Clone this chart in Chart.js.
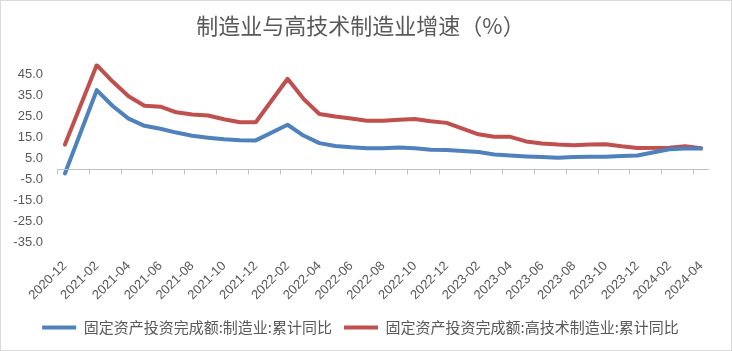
<!DOCTYPE html>
<html>
<head>
<meta charset="utf-8">
<script src="https://cdn.jsdelivr.net/npm/chart.js@4.4.1/dist/chart.umd.min.js"></script>
<style>
  body { margin: 0; background: #fff; }
  #box { width: 730px; height: 349px; border: 1px solid #d9d9d9; position: relative; }
</style>
</head>
<body>
<div id="box"><canvas id="growth-chart"></canvas></div>
<script>
// months; January has no separate release, so it stays empty
var months = ['2020-12', '2021-01', '2021-02', '2021-03', '2021-04', '2021-05', '2021-06', '2021-07', '2021-08', '2021-09', '2021-10', '2021-11', '2021-12',
  '2022-01', '2022-02', '2022-03', '2022-04', '2022-05', '2022-06', '2022-07', '2022-08', '2022-09', '2022-10', '2022-11', '2022-12',
  '2023-01', '2023-02', '2023-03', '2023-04', '2023-05', '2023-06', '2023-07', '2023-08', '2023-09', '2023-10', '2023-11', '2023-12',
  '2024-01', '2024-02', '2024-03', '2024-04'];

var manufacturing = [-2.2, null, 37.3, 29.8, 23.8, 20.4, 19.0, 17.2, 15.7, 14.8, 14.0, 13.6, 13.5,
  null, 20.9, 15.8, 12.2, 10.8, 10.2, 9.8, 9.8, 10.1, 9.8, 9.1, 9.0,
  null, 8.0, 6.8, 6.3, 5.9, 5.6, 5.3, 5.6, 5.8, 5.8, 6.1, 6.3,
  null, 9.3, 9.7, 9.6];

var highTech = [11.5, null, 49.2, 41.4, 34.4, 29.9, 29.5, 26.8, 25.8, 25.3, 23.5, 22.1, 22.1,
  null, 42.7, 33.2, 26.0, 24.8, 23.9, 22.8, 22.8, 23.3, 23.6, 22.6, 21.8,
  null, 16.4, 15.2, 15.2, 13.0, 12.0, 11.5, 11.2, 11.5, 11.7, 10.7, 9.9,
  null, 10.0, 10.7, 9.8];

var yTicks = [-35, -25, -15, -5, 5, 15, 25, 35, 45];

var seriesNames = ['固定资产投资完成额:制造业:累计同比', '固定资产投资完成额:高技术制造业:累计同比'];

var textColor = '#595959';
var axisColor = '#bfbfbf';
var latin = '"Liberation Sans", "Noto Sans CJK SC", sans-serif';
var cjk = '"Noto Sans CJK SC", "Liberation Sans", sans-serif';

// category axis line crossing at zero, with a tick mark every two months
var zeroAxis = {
    id: 'zeroAxis',
    afterDatasetsDraw: function(chart) {
        var xs = chart.scales.x;
        var ys = chart.scales.y;
        var area = chart.chartArea;
        var c = chart.ctx;
        var y0 = Math.round(ys.getPixelForValue(0)) + 0.5;
        var half = (xs.getPixelForValue(1) - xs.getPixelForValue(0)) / 2;
        c.save();
        c.strokeStyle = axisColor;
        c.lineWidth = 1;
        c.beginPath();
        c.moveTo(area.left, y0);
        c.lineTo(area.right, y0);
        for (var i = 0; i < months.length; i += 2) {
            var px = Math.round(xs.getPixelForValue(i) - half) + 0.5;
            c.moveTo(px, y0);
            c.lineTo(px, y0 + 5);
        }
        c.stroke();
        c.restore();
    }
};

var ctx = document.getElementById('growth-chart').getContext('2d');

new Chart(ctx, {
    type: 'line',
    data: {
        labels: months,
        datasets: [{
            label: seriesNames[0],
            data: manufacturing,
            borderColor: '#4F81BD',
            backgroundColor: '#4F81BD',
            borderWidth: 4,
            borderCapStyle: 'round',
            borderJoinStyle: 'round',
            pointRadius: 0,
            spanGaps: true
        }, {
            label: seriesNames[1],
            data: highTech,
            borderColor: '#C0504D',
            backgroundColor: '#C0504D',
            borderWidth: 4,
            borderCapStyle: 'round',
            borderJoinStyle: 'round',
            pointRadius: 0,
            spanGaps: true
        }]
    },
    options: {
        responsive: true,
        maintainAspectRatio: false,
        animation: false,
        layout: {
            padding: { left: 11, right: 22, top: 0, bottom: 5 }
        },
        plugins: {
            title: {
                display: true,
                text: '制造业与高技术制造业增速（%）',
                color: textColor,
                font: { family: cjk, size: 22, weight: 'normal' },
                padding: { top: 11, bottom: 25 }
            },
            legend: {
                position: 'bottom',
                labels: {
                    color: textColor,
                    font: { family: cjk, size: 15 },
                    usePointStyle: true,
                    pointStyle: 'line',
                    pointStyleWidth: 34,
                    padding: 12
                }
            },
            tooltip: { enabled: false }
        },
        scales: {
            x: {
                type: 'category',
                position: { y: 0 },
                offset: true,
                grid: { display: false, drawTicks: false },
                border: { display: false },
                ticks: { display: false }
            },
            // month labels below the plot
            x2: {
                type: 'category',
                position: 'bottom',
                offset: true,
                grid: { display: false, drawTicks: false },
                border: { display: false },
                afterFit: function(scale) {
                    scale.paddingLeft = 0;
                },
                ticks: {
                    autoSkip: false,
                    minRotation: 45,
                    maxRotation: 45,
                    padding: 5,
                    color: textColor,
                    font: { family: latin, size: 13 },
                    callback: function(value, index) {
                        return index % 2 === 0 ? months[index] : '';
                    }
                }
            },
            y: {
                min: -40,
                max: 50,
                grid: { display: false, drawTicks: false },
                border: { display: false },
                afterFit: function(scale) {
                    scale.width = 45;
                },
                afterBuildTicks: function(axis) {
                    axis.ticks = yTicks.map(function(v) { return { value: v }; });
                },
                ticks: {
                    padding: 14,
                    color: textColor,
                    font: { family: latin, size: 13 },
                    callback: function(value) {
                        return value.toFixed(1);
                    }
                }
            }
        }
    },
    plugins: [zeroAxis]
});
</script>
</body>
</html>
